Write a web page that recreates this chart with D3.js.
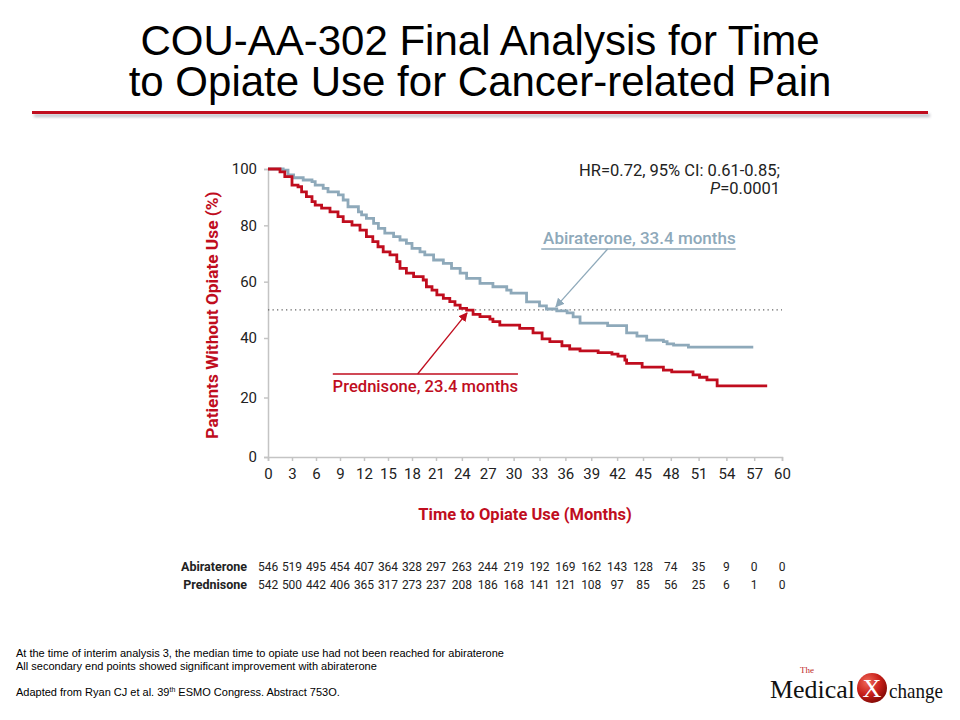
<!DOCTYPE html>
<html>
<head>
<meta charset="utf-8">
<script src="https://cdn.jsdelivr.net/npm/d3@7"></script>
<style>
  body { margin: 0; background: #fff; }
  svg text { font-family: Roboto, "Noto Sans", sans-serif; }
</style>
</head>
<body>
<svg id="chart" width="960" height="720"></svg>
<script>
// Kaplan-Meier steps (month where the step starts, % without opiate use)
const abiMonths = [0, 1.9, 2.5, 3.2, 4.4, 5.5, 5.9, 6.9, 7.5, 8.8, 9.4, 10.0, 11.3, 11.7, 12.3, 13.2, 13.8, 14.6, 15.7, 16.5, 17.3, 18.0, 19.0, 19.6, 20.7, 21.85, 22.8, 23.8, 24.55, 26.1, 27.6, 29.2, 29.7, 31.5, 33.0, 33.8, 35.0, 36.2, 36.9, 37.7, 40.9, 43.1, 44.3, 45.4, 47.2, 47.6, 48.3, 49.9, 56.9];
const abiValues = [100, 99.6, 97.9, 96.9, 96.1, 95.5, 94.3, 93.1, 91.9, 90.8, 89.0, 86.6, 84.8, 83.7, 82.5, 80.7, 78.9, 77.2, 76.0, 74.8, 73.6, 71.8, 70.6, 69.5, 67.7, 66.5, 64.7, 63.0, 61.2, 59.4, 58.2, 57.0, 55.9, 52.8, 51.4, 50.3, 49.6, 48.9, 47.5, 45.3, 44.4, 41.8, 40.7, 39.3, 38.8, 38.0, 37.6, 36.9, 36.9];

const predMonths = [0, 1.5, 2.1, 3.0, 3.75, 4.2, 4.8, 5.5, 5.9, 6.7, 7.75, 8.75, 9.4, 10.5, 11.5, 12.3, 13.1, 13.75, 14.4, 15.25, 16.1, 16.5, 17.3, 18.2, 19.4, 19.8, 20.5, 21.1, 21.85, 22.6, 23.2, 23.8, 24.55, 25.3, 26.1, 27.25, 27.6, 28.4, 30.7, 32.25, 33.3, 34.2, 35.6, 36.5, 37.7, 39.8, 41.4, 42.1, 42.9, 43.1, 44.9, 47.2, 48.1, 50.4, 51.1, 51.9, 53.0, 58.4];
const predValues = [100, 99.0, 97.3, 94.3, 93.7, 91.9, 90.2, 88.4, 87.2, 86.1, 84.8, 83.1, 81.3, 80.1, 78.3, 76.0, 74.2, 72.4, 70.6, 69.5, 67.1, 64.7, 63.0, 61.8, 60.6, 58.2, 57.0, 55.3, 54.1, 52.9, 51.7, 50.5, 49.9, 48.4, 47.6, 46.7, 45.8, 44.6, 43.4, 41.8, 39.7, 38.8, 37.4, 36.3, 35.7, 35.1, 34.6, 33.9, 32.6, 31.5, 30.2, 29.2, 28.6, 27.6, 26.8, 25.9, 23.9, 23.9];

const xTickLabels = [0, 3, 6, 9, 12, 15, 18, 21, 24, 27, 30, 33, 36, 39, 42, 45, 48, 51, 54, 57, 60];
const yTickLabels = [0, 20, 40, 60, 80, 100];

const riskGroups = ["Abiraterone", "Prednisone"];
const abiAtRisk = [546, 519, 495, 454, 407, 364, 328, 297, 263, 244, 219, 192, 169, 162, 143, 128, 74, 35, 9, 0, 0];
const predAtRisk = [542, 500, 442, 406, 365, 317, 273, 237, 208, 186, 168, 141, 121, 108, 97, 85, 56, 25, 6, 1, 0];

const medianLevel = 50;

const red = "#c00d1e";
const blue = "#8ea9ba";

const svg = d3.select("#chart");

// Title
svg.append("text")
  .attr("x", 480).attr("y", 55)
  .attr("text-anchor", "middle")
  .style("font-family", "'Liberation Sans', Arial, sans-serif")
  .style("font-size", "42px")
  .text("COU-AA-302 Final Analysis for Time");
svg.append("text")
  .attr("x", 480).attr("y", 96)
  .attr("text-anchor", "middle")
  .style("font-family", "'Liberation Sans', Arial, sans-serif")
  .style("font-size", "42px")
  .text("to Opiate Use for Cancer-related Pain");

// red rule with a soft shadow under it
const defs = svg.append("defs");
const shadow = defs.append("filter").attr("id", "shadow").attr("height", "300%").attr("y", "-100%");
shadow.append("feGaussianBlur").attr("stdDeviation", 1.5);
svg.append("rect").attr("x", 34).attr("y", 114).attr("width", 896).attr("height", 3)
  .attr("fill", "#b8bcc4").attr("filter", "url(#shadow)");
svg.append("rect").attr("x", 32).attr("y", 111).attr("width", 896).attr("height", 3)
  .attr("fill", red);

// Plot area
const margin = { left: 268, top: 169 };
const width = 514, height = 288;
const g = svg.append("g").attr("transform", `translate(${margin.left},${margin.top})`);

// the slide's axis is slightly stretched toward the right / bottom
const x = d3.scaleLinear().domain([0, 21, 45, 60]).range([0, 168, 375, width]);
const y = d3.scaleLinear().domain([0, 40, 100]).range([height, 169, 0]);

const xAxis = g.append("g")
  .attr("transform", `translate(0,${height})`)
  .call(d3.axisBottom(x).tickValues(xTickLabels).tickSize(4).tickPadding(7).tickFormat(d3.format("d")));
const yAxis = g.append("g")
  .call(d3.axisLeft(y).tickValues(yTickLabels).tickSize(4).tickPadding(7).tickFormat(d3.format("d")));

[xAxis, yAxis].forEach(a => {
  a.select(".domain").attr("stroke", "#c4c4c4").attr("stroke-width", 1.5);
  a.selectAll(".tick line").attr("stroke", "#c4c4c4").attr("stroke-width", 1.5);
  a.selectAll(".tick text")
    .style("font-family", "Roboto, sans-serif")
    .style("font-size", "15px")
    .attr("fill", "#222");
});

// median reference line
g.append("line")
  .attr("x1", 0).attr("x2", width)
  .attr("y1", y(medianLevel)).attr("y2", y(medianLevel))
  .attr("stroke", "#666").attr("stroke-width", 1.3)
  .attr("stroke-dasharray", "1.3,3.2");

const line = d3.line()
  .x(d => x(d[0]))
  .y(d => y(d[1]))
  .curve(d3.curveStepAfter);

const series = [
  { name: "Abiraterone", months: abiMonths, values: abiValues, color: blue },
  { name: "Prednisone", months: predMonths, values: predValues, color: red }
];

g.selectAll(".km")
  .data(series)
  .join("path")
  .attr("class", "km")
  .attr("fill", "none")
  .attr("stroke", d => d.color)
  .attr("stroke-width", 2.8)
  .attr("d", d => line(d.months.map((m, i) => [m, d.values[i]])));

// arrowheads
[["arrBlue", blue], ["arrRed", red]].forEach(([id, c]) => {
  defs.append("marker").attr("id", id)
    .attr("viewBox", "0 0 10 10").attr("refX", 9).attr("refY", 5)
    .attr("markerWidth", 7).attr("markerHeight", 7).attr("orient", "auto")
    .append("path").attr("d", "M0,0L10,5L0,10z").attr("fill", c);
});

// Abiraterone median annotation
g.append("text")
  .attr("x", x(55.0)).attr("y", 75)
  .attr("text-anchor", "end")
  .attr("fill", blue)
  .style("font-size", "17px")
  .style("font-weight", 500)
  .text("Abiraterone, 33.4 months");
g.append("line")
  .attr("x1", x(33.2)).attr("x2", x(55.0))
  .attr("y1", 80).attr("y2", 80)
  .attr("stroke", blue).attr("stroke-width", 1.5);
g.append("line")
  .attr("x1", x(40.9)).attr("y1", 80)
  .attr("x2", x(34.9)).attr("y2", y(medianLevel) - 3)
  .attr("stroke", blue).attr("stroke-width", 1.3)
  .attr("marker-end", "url(#arrBlue)");

// Prednisone median annotation
g.append("line")
  .attr("x1", x(8.1)).attr("x2", x(30.5))
  .attr("y1", 205).attr("y2", 205)
  .attr("stroke", red).attr("stroke-width", 1.5);
g.append("text")
  .attr("x", x(30.5)).attr("y", 223)
  .attr("text-anchor", "end")
  .attr("fill", red)
  .style("font-size", "16.6px")
  .style("font-weight", 500)
  .text("Prednisone, 23.4 months");
g.append("line")
  .attr("x1", x(18.7)).attr("y1", 205)
  .attr("x2", x(24.6)).attr("y2", y(medianLevel) + 3)
  .attr("stroke", red).attr("stroke-width", 1.3)
  .attr("marker-end", "url(#arrRed)");

// HR text
g.append("text")
  .attr("x", width - 2).attr("y", 7)
  .attr("text-anchor", "end")
  .attr("fill", "#222")
  .style("font-size", "16.5px")
  .text("HR=0.72, 95% CI: 0.61-0.85;");
const hr2 = g.append("text")
  .attr("x", width - 2).attr("y", 25)
  .attr("text-anchor", "end")
  .attr("fill", "#222")
  .style("font-size", "16.5px");
hr2.append("tspan").style("font-style", "italic").text("P");
hr2.append("tspan").text("=0.0001");

// axis titles
g.append("text")
  .attr("transform", `translate(-50,${height / 2 + 2}) rotate(-90)`)
  .attr("text-anchor", "middle")
  .attr("fill", red)
  .style("font-size", "17.3px")
  .style("font-weight", 700)
  .text("Patients Without Opiate Use (%)");
g.append("text")
  .attr("x", 257).attr("y", height + 63)
  .attr("text-anchor", "middle")
  .attr("fill", red)
  .style("font-size", "16.5px")
  .style("font-weight", 700)
  .text("Time to Opiate Use (Months)");

// numbers at risk
const riskRows = [abiAtRisk, predAtRisk];
riskRows.forEach((row, r) => {
  const yy = 402 + r * 18;
  g.append("text")
    .attr("x", -21).attr("y", yy)
    .attr("text-anchor", "end")
    .attr("fill", "#222")
    .style("font-size", "12.5px")
    .style("font-weight", 700)
    .text(riskGroups[r]);
  g.selectAll(null)
    .data(row)
    .join("text")
    .attr("x", (d, i) => x(xTickLabels[i]))
    .attr("y", yy)
    .attr("text-anchor", "middle")
    .attr("fill", "#222")
    .style("font-size", "12px")
    .text(d => d);
});

// footnotes
const foot = svg.append("g")
  .style("font-size", "11px")
  .attr("fill", "#000");
foot.append("text").attr("x", 16).attr("y", 657)
  .style("font-family", "'Liberation Sans', Arial, sans-serif")
  .text("At the time of interim analysis 3, the median time to opiate use had not been reached for abiraterone");
foot.append("text").attr("x", 16).attr("y", 670)
  .style("font-family", "'Liberation Sans', Arial, sans-serif")
  .text("All secondary end points showed significant improvement with abiraterone");
const adapted = foot.append("text").attr("x", 16).attr("y", 696)
  .style("font-family", "'Liberation Sans', Arial, sans-serif");
adapted.append("tspan").text("Adapted from Ryan CJ et al. 39");
adapted.append("tspan").attr("dy", -4).style("font-size", "7px").text("th");
adapted.append("tspan").attr("dy", 4).text(" ESMO Congress. Abstract 753O.");

// logo
const logo = svg.append("g").attr("transform", "translate(770,0)");
const grad = defs.append("radialGradient").attr("id", "ball").attr("cx", "35%").attr("cy", "30%").attr("r", "70%");
grad.append("stop").attr("offset", "0%").attr("stop-color", "#f06a5a");
grad.append("stop").attr("offset", "60%").attr("stop-color", "#c8201a");
grad.append("stop").attr("offset", "100%").attr("stop-color", "#8a0c08");
logo.append("text").attr("x", 30).attr("y", 673)
  .attr("fill", "#c0282a")
  .style("font-family", "'Liberation Serif', 'DejaVu Serif', serif")
  .style("font-size", "9px")
  .text("The");
logo.append("text").attr("x", 0).attr("y", 698)
  .attr("fill", "#111")
  .style("font-family", "'Liberation Serif', 'DejaVu Serif', serif")
  .style("font-size", "25px")
  .attr("textLength", 85)
  .attr("lengthAdjust", "spacingAndGlyphs")
  .text("Medical");
logo.append("circle").attr("cx", 102).attr("cy", 688).attr("r", 15).attr("fill", "url(#ball)");
logo.append("text").attr("x", 102).attr("y", 697)
  .attr("text-anchor", "middle")
  .attr("fill", "#fff")
  .style("font-family", "'Liberation Serif', 'DejaVu Serif', serif")
  .style("font-size", "26px")
  .text("X");
logo.append("text").attr("x", 119).attr("y", 698)
  .attr("fill", "#111")
  .style("font-family", "'Liberation Serif', 'DejaVu Serif', serif")
  .style("font-size", "22px")
  .attr("textLength", 54)
  .attr("lengthAdjust", "spacingAndGlyphs")
  .text("change");
</script>
</body>
</html>
